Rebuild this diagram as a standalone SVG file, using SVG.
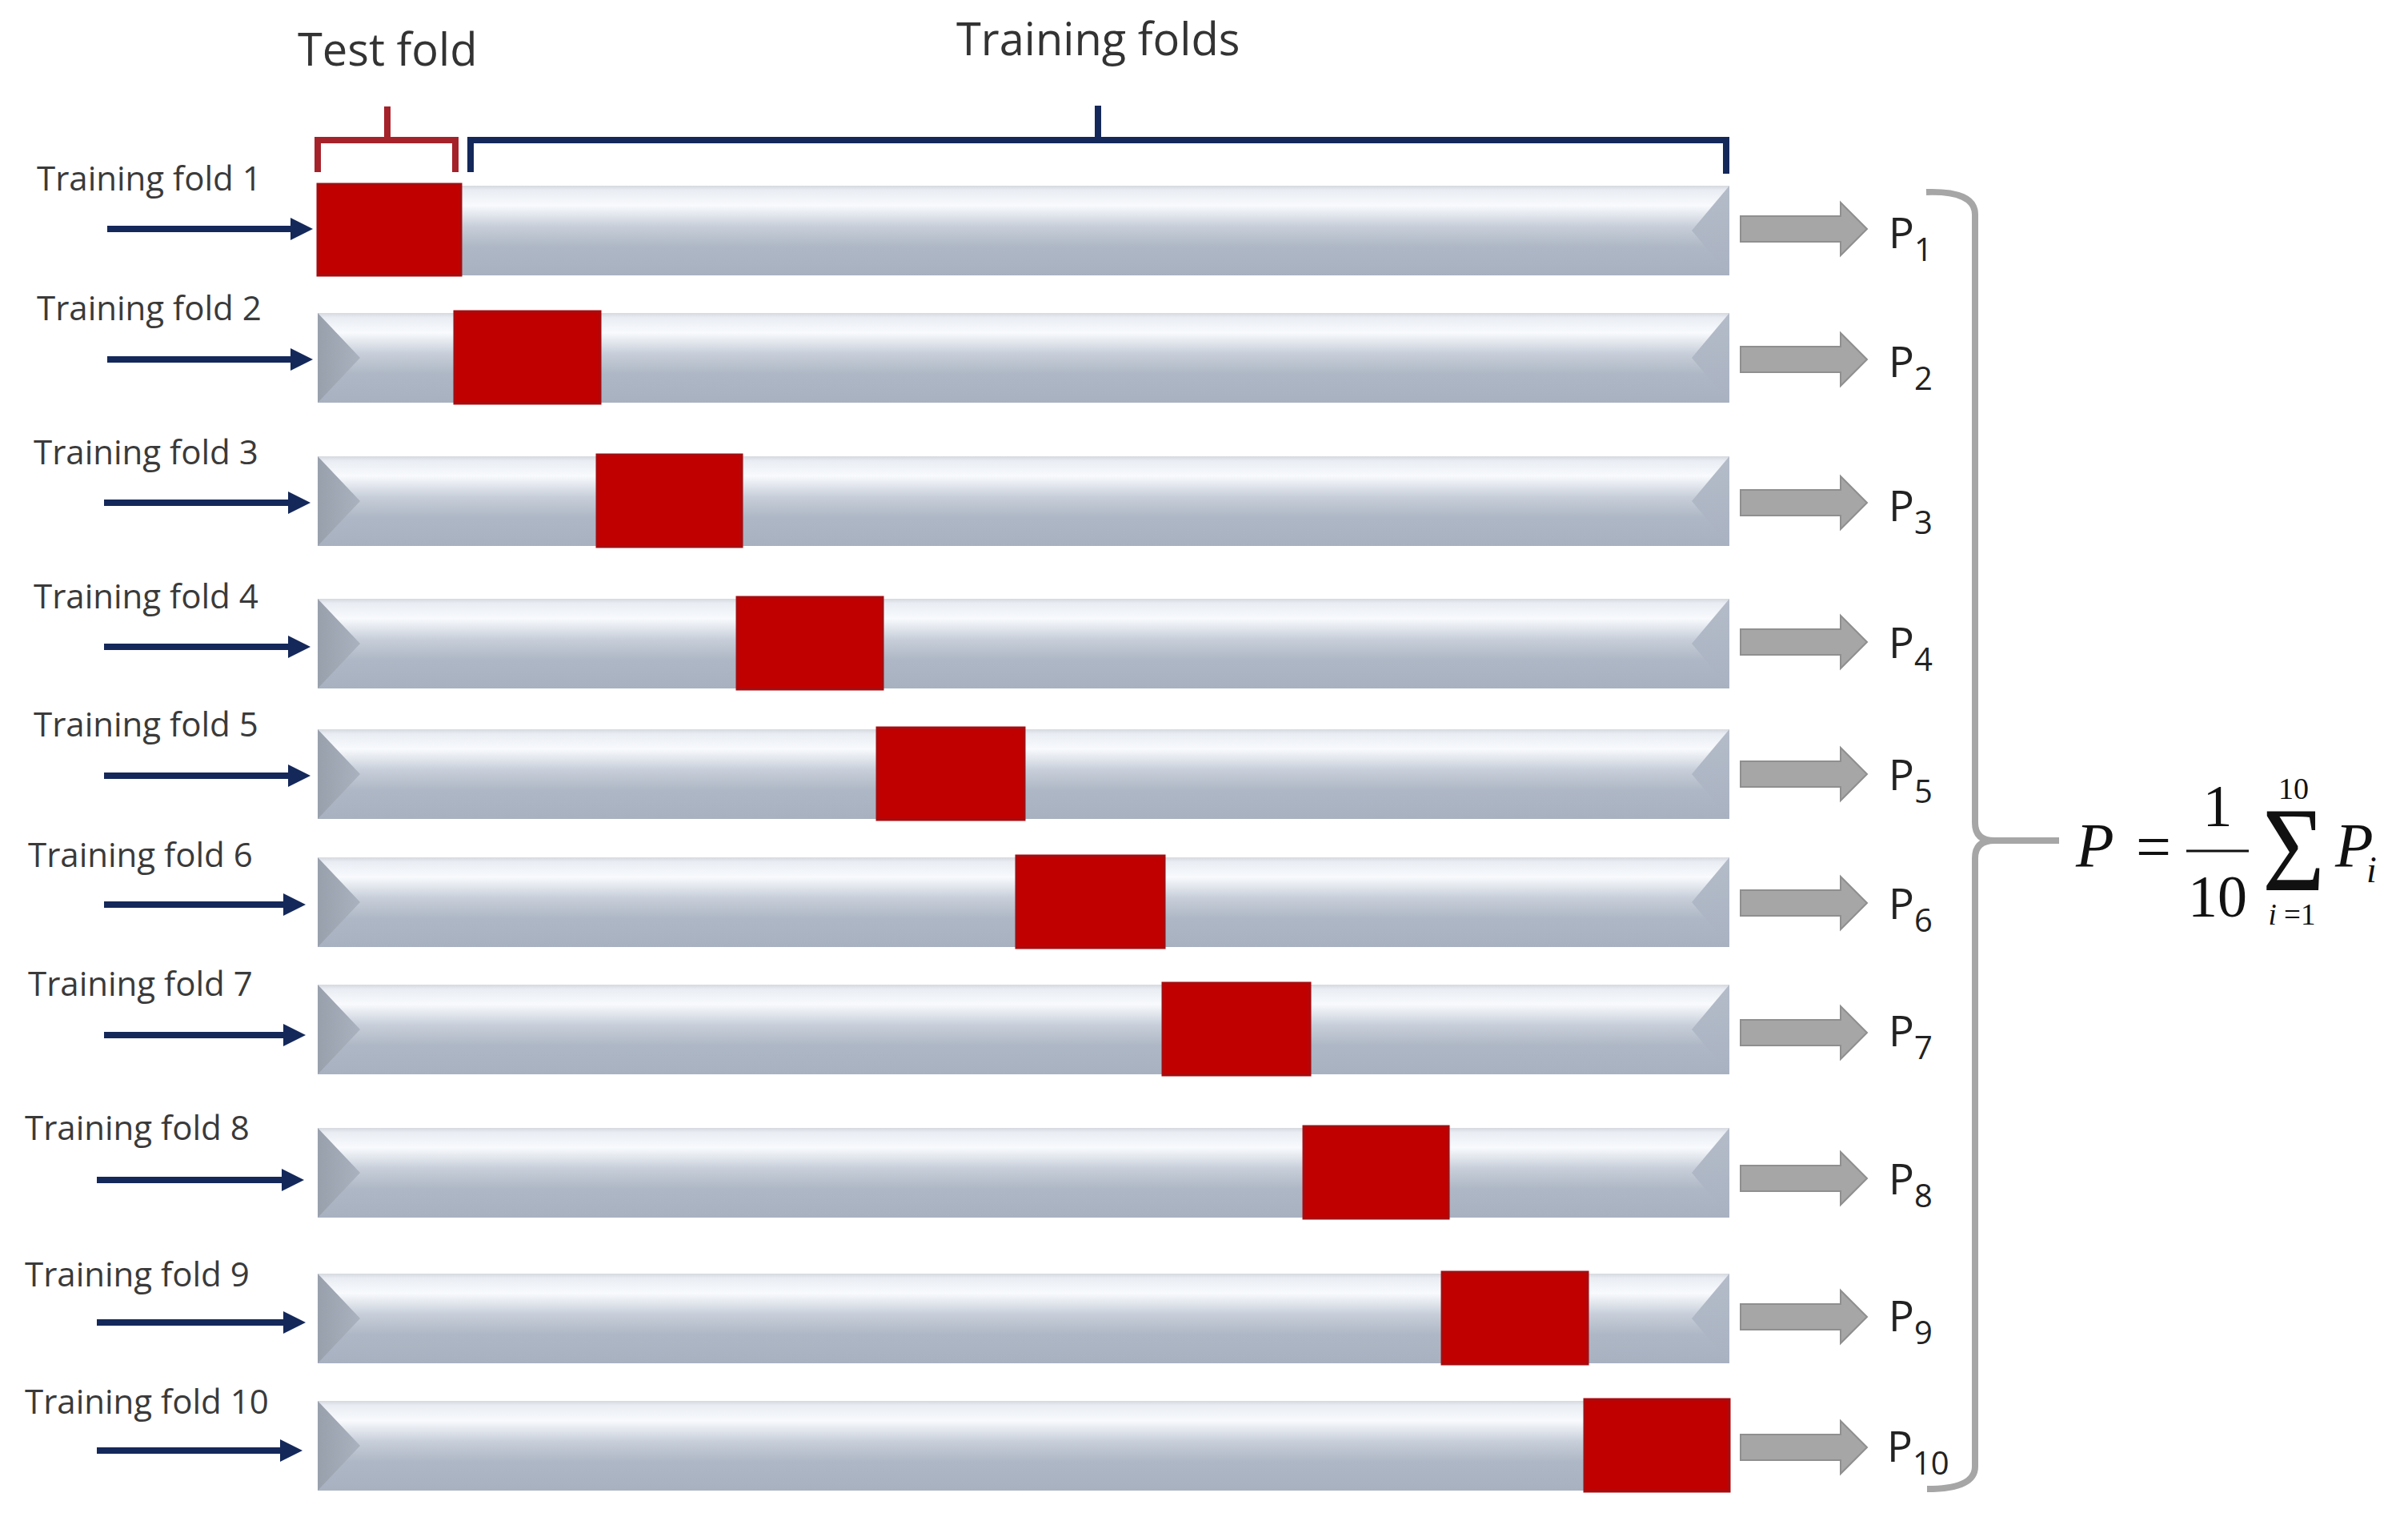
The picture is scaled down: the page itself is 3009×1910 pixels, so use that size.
<svg xmlns="http://www.w3.org/2000/svg" width="3009" height="1910" viewBox="0 0 3009 1910">
<style>
.lbl{font-family:"Open Sans","Liberation Sans",sans-serif;font-size:42px;fill:#3a3a3a}
.hdr{font-family:"Open Sans","Liberation Sans",sans-serif;font-size:56px;fill:#333333}
.pl{font-family:"Open Sans","Liberation Sans",sans-serif;font-size:53px;fill:#222222}
.sub{font-size:40px}
.bar{fill:url(#barGrad)}
.lf{fill:url(#lfGrad)}
.rf{fill:url(#rfGrad)}
.red{fill:#c00000;stroke:#a50d10;stroke-width:3}
.nav{stroke:#14285a;stroke-width:8;fill:none;marker-end:url(#navHead)}
.gar{fill:#a6a6a6;stroke:#8f8f8f;stroke-width:2}
.math{font-family:"Liberation Serif","Times New Roman",serif;fill:#111111}
</style>
<defs>
<linearGradient id="barGrad" x1="0" y1="0" x2="0" y2="1">
<stop offset="0" stop-color="#d5d9df"/>
<stop offset="0.05" stop-color="#e9edf3"/>
<stop offset="0.22" stop-color="#f8fafd"/>
<stop offset="0.45" stop-color="#c8cfda"/>
<stop offset="0.68" stop-color="#aeb7c5"/>
<stop offset="1" stop-color="#a8b1c0"/>
</linearGradient>
<linearGradient id="lfGrad" x1="0" y1="0" x2="1" y2="0">
<stop offset="0" stop-color="#98a0ac"/>
<stop offset="1" stop-color="#aab2bf"/>
</linearGradient>
<linearGradient id="rfGrad" x1="0" y1="0" x2="0" y2="1">
<stop offset="0" stop-color="#b4bcc9"/>
<stop offset="1" stop-color="#a9b2c1"/>
</linearGradient>
<marker id="navHead" markerUnits="userSpaceOnUse" markerWidth="30" markerHeight="30" refX="2" refY="15" orient="auto" viewBox="0 0 30 30">
<path d="M0,1 L28,15 L0,29 Z" fill="#14285a"/>
</marker>
</defs>
<rect width="3009" height="1910" fill="#ffffff"/>

<g id="header-test-fold">
<text class="hdr" x="372" y="82">Test fold</text>
<path d="M397,215 V175 H569 V215 M484,175 V133" fill="none" stroke="#a6222a" stroke-width="8"/>
</g>
<g id="header-training-folds">
<text class="hdr" x="1195" y="69">Training folds</text>
<path d="M588,215 V175 H2157 V217 M1372,175 V132" fill="none" stroke="#14285a" stroke-width="8"/>
</g>

<g id="fold1">
<text class="lbl" x="46" y="238">Training fold 1</text>
<rect class="bar" x="397" y="232" width="1764" height="112"/>
<polygon class="lf" points="397,232 450,288 397,344"/>
<polygon class="rf" points="2161,232 2114,288 2161,344"/>
<rect class="red" x="397" y="230" width="179" height="114"/>
</g>
<g id="fold2">
<text class="lbl" x="46" y="400">Training fold 2</text>
<rect class="bar" x="397" y="391" width="1764" height="112"/>
<polygon class="lf" points="397,391 450,447 397,503"/>
<polygon class="rf" points="2161,391 2114,447 2161,503"/>
<rect class="red" x="568" y="389" width="182" height="115"/>
</g>
<g id="fold3">
<text class="lbl" x="42" y="580">Training fold 3</text>
<rect class="bar" x="397" y="570" width="1764" height="112"/>
<polygon class="lf" points="397,570 450,626 397,682"/>
<polygon class="rf" points="2161,570 2114,626 2161,682"/>
<rect class="red" x="746" y="568" width="181" height="115"/>
</g>
<g id="fold4">
<text class="lbl" x="42" y="760">Training fold 4</text>
<rect class="bar" x="397" y="748" width="1764" height="112"/>
<polygon class="lf" points="397,748 450,804 397,860"/>
<polygon class="rf" points="2161,748 2114,804 2161,860"/>
<rect class="red" x="921" y="746" width="182" height="115"/>
</g>
<g id="fold5">
<text class="lbl" x="42" y="920">Training fold 5</text>
<rect class="bar" x="397" y="911" width="1764" height="112"/>
<polygon class="lf" points="397,911 450,967 397,1023"/>
<polygon class="rf" points="2161,911 2114,967 2161,1023"/>
<rect class="red" x="1096" y="909" width="184" height="115"/>
</g>
<g id="fold6">
<text class="lbl" x="35" y="1083">Training fold 6</text>
<rect class="bar" x="397" y="1071" width="1764" height="112"/>
<polygon class="lf" points="397,1071 450,1127 397,1183"/>
<polygon class="rf" points="2161,1071 2114,1127 2161,1183"/>
<rect class="red" x="1270" y="1069" width="185" height="115"/>
</g>
<g id="fold7">
<text class="lbl" x="35" y="1244">Training fold 7</text>
<rect class="bar" x="397" y="1230" width="1764" height="112"/>
<polygon class="lf" points="397,1230 450,1286 397,1342"/>
<polygon class="rf" points="2161,1230 2114,1286 2161,1342"/>
<rect class="red" x="1453" y="1228" width="184" height="115"/>
</g>
<g id="fold8">
<text class="lbl" x="31" y="1424">Training fold 8</text>
<rect class="bar" x="397" y="1409" width="1764" height="112"/>
<polygon class="lf" points="397,1409 450,1465 397,1521"/>
<polygon class="rf" points="2161,1409 2114,1465 2161,1521"/>
<rect class="red" x="1629" y="1407" width="181" height="115"/>
</g>
<g id="fold9">
<text class="lbl" x="31" y="1607">Training fold 9</text>
<rect class="bar" x="397" y="1591" width="1764" height="112"/>
<polygon class="lf" points="397,1591 450,1647 397,1703"/>
<polygon class="rf" points="2161,1591 2114,1647 2161,1703"/>
<rect class="red" x="1802" y="1589" width="182" height="115"/>
</g>
<g id="fold10">
<text class="lbl" x="31" y="1766">Training fold 10</text>
<rect class="bar" x="397" y="1750" width="1764" height="112"/>
<polygon class="lf" points="397,1750 450,1806 397,1862"/>
<rect class="red" x="1980" y="1748" width="181" height="115"/>
</g>

<g id="p-labels">
<text class="pl" x="2360" y="310">P<tspan class="sub" dy="16">1</tspan></text>
<text class="pl" x="2360" y="471">P<tspan class="sub" dy="16">2</tspan></text>
<text class="pl" x="2360" y="651">P<tspan class="sub" dy="16">3</tspan></text>
<text class="pl" x="2360" y="822">P<tspan class="sub" dy="16">4</tspan></text>
<text class="pl" x="2360" y="987">P<tspan class="sub" dy="16">5</tspan></text>
<text class="pl" x="2360" y="1148">P<tspan class="sub" dy="16">6</tspan></text>
<text class="pl" x="2360" y="1307">P<tspan class="sub" dy="16">7</tspan></text>
<text class="pl" x="2360" y="1492">P<tspan class="sub" dy="16">8</tspan></text>
<text class="pl" x="2360" y="1663">P<tspan class="sub" dy="16">9</tspan></text>
<text class="pl" x="2358" y="1826">P<tspan class="sub" dy="16">10</tspan></text>
</g>

<g id="brace">
<path d="M2407,240 Q2468,238 2468,268 V1028 Q2468,1050 2492,1050 Q2468,1050 2468,1072 V1832 Q2468,1860 2408,1860 M2492,1050 H2573" fill="none" stroke="#a6a6a6" stroke-width="8"/>
</g>

<g id="formula" class="math">
<text x="2594" y="1082" font-size="78" font-style="italic">P</text>
<text x="2669" y="1084" font-size="78">=</text>
<text x="2771" y="1032" font-size="74" text-anchor="middle">1</text>
<line x1="2732" y1="1063" x2="2810" y2="1063" stroke="#111111" stroke-width="3"/>
<text x="2771" y="1145" font-size="74" text-anchor="middle">10</text>
<text x="2827" y="1112" font-size="150" textLength="78" lengthAdjust="spacingAndGlyphs">Σ</text>
<text x="2866" y="998" font-size="38" text-anchor="middle">10</text>
<text x="2864" y="1155" font-size="37" text-anchor="middle"><tspan font-style="italic">i</tspan> =1</text>
<text x="2918" y="1082" font-size="78" font-style="italic">P</text>
<text x="2957" y="1102" font-size="46" font-style="italic">i</text>
</g>

<g id="connectors">
<line class="nav" x1="134" y1="286" x2="365" y2="286"/>
<line class="nav" x1="134" y1="449" x2="365" y2="449"/>
<line class="nav" x1="130" y1="628" x2="362" y2="628"/>
<line class="nav" x1="130" y1="808" x2="362" y2="808"/>
<line class="nav" x1="130" y1="969" x2="362" y2="969"/>
<line class="nav" x1="130" y1="1130" x2="356" y2="1130"/>
<line class="nav" x1="130" y1="1293" x2="356" y2="1293"/>
<line class="nav" x1="121" y1="1474" x2="354" y2="1474"/>
<line class="nav" x1="121" y1="1652" x2="356" y2="1652"/>
<line class="nav" x1="121" y1="1812" x2="352" y2="1812"/>
<path class="gar" d="M2175,270 H2300 V253 L2333,286 L2300,319 V302 H2175 Z"/>
<path class="gar" d="M2175,433 H2300 V416 L2333,449 L2300,482 V465 H2175 Z"/>
<path class="gar" d="M2175,612 H2300 V595 L2333,628 L2300,661 V644 H2175 Z"/>
<path class="gar" d="M2175,786 H2300 V769 L2333,802 L2300,835 V818 H2175 Z"/>
<path class="gar" d="M2175,951 H2300 V934 L2333,967 L2300,1000 V983 H2175 Z"/>
<path class="gar" d="M2175,1112 H2300 V1095 L2333,1128 L2300,1161 V1144 H2175 Z"/>
<path class="gar" d="M2175,1274 H2300 V1257 L2333,1290 L2300,1323 V1306 H2175 Z"/>
<path class="gar" d="M2175,1456 H2300 V1439 L2333,1472 L2300,1505 V1488 H2175 Z"/>
<path class="gar" d="M2175,1629 H2300 V1612 L2333,1645 L2300,1678 V1661 H2175 Z"/>
<path class="gar" d="M2175,1792 H2300 V1775 L2333,1808 L2300,1841 V1824 H2175 Z"/>
</g>
</svg>
